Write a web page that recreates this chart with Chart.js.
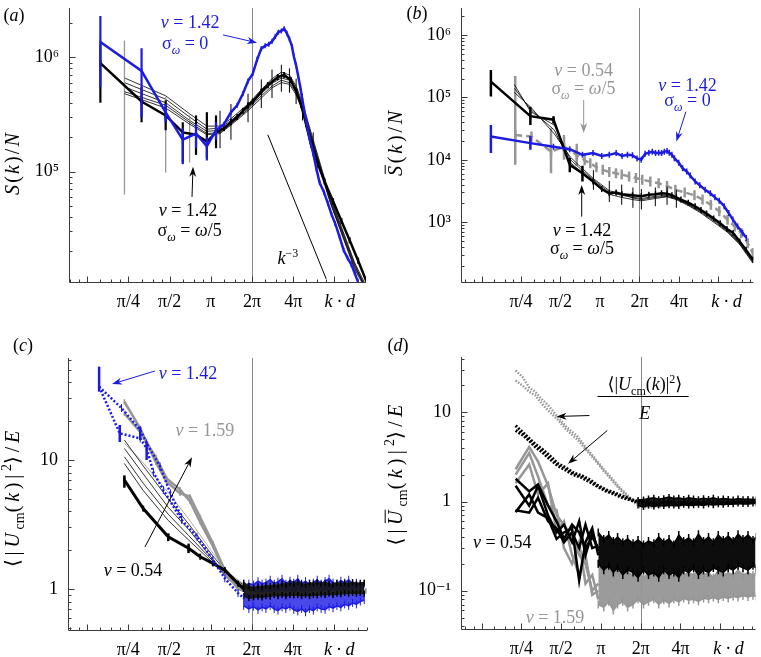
<!DOCTYPE html>
<html lang="en">
<head>
<meta charset="UTF-8">
<title>Structure factor and centre-of-mass velocity spectra</title>
<script src="https://cdn.jsdelivr.net/npm/chart.js"></script>
<style>
  * { margin: 0; padding: 0; }
  body { width: 761px; height: 657px; background: #fff; position: relative; overflow: hidden; }
  canvas { position: absolute; }
  #ca { left: 0; top: 0; }
  #cb { left: 380px; top: 0; }
  #cc { left: 0; top: 330px; }
  #cd { left: 380px; top: 330px; }
</style>
</head>
<body>
<canvas id="ca" width="380" height="330"></canvas>
<canvas id="cb" width="381" height="330"></canvas>
<canvas id="cc" width="380" height="327"></canvas>
<canvas id="cd" width="381" height="327"></canvas>
<script>
const PI = Math.PI;
const BLUE = 'rgb(28,28,225)';
const GRAY = 'rgb(150,150,150)';
const BLACK = '#000';
const SERIF = "'Liberation Serif', 'Times New Roman', 'DejaVu Serif', serif";

const xTickLabels = ['π/4', 'π/2', 'π', '2π', '4π', 'k · d'];

// ---- (a) S(k)/N ----
const aBlueK = [0.49, 0.98, 1.47, 1.96, 2.45, 2.94, 3.43, 3.92, 4.41, 4.90, 5.39, 5.88, 6.37, 6.86, 7.35, 7.84, 8.33, 8.82, 9.31, 9.80, 10.3, 10.8, 11.3, 11.8, 12.3, 12.7, 13.2, 13.7, 14.2, 14.7, 15.7, 16.7, 17.6, 18.6, 19.6, 21.1, 22.5, 24.0, 25.5, 27.4, 29.4, 31.4, 33.3, 35.3, 37.2];
const aBlueS = [1.36e6, 7.6e5, 3.3e5, 1.9e5, 2.15e5, 1.66e5, 2.3e5, 2.6e5, 3.3e5, 3.8e5, 4.8e5, 6.2e5, 7.2e5, 9.6e5, 1.19e6, 1.26e6, 1.30e6, 1.38e6, 1.52e6, 1.66e6, 1.70e6, 1.78e6, 1.62e6, 1.45e6, 1.25e6, 1.02e6, 8.5e5, 6.8e5, 5.4e5, 4.2e5, 2.7e5, 1.85e5, 1.45e5, 1.05e5, 8.0e4, 6.6e4, 5.3e4, 4.2e4, 3.5e4, 2.7e4, 2.05e4, 1.75e4, 1.55e4, 1.3e4, 1.1e4];
const aBlueLo = [5.5e5, 3.0e5, 2.7e5, 1.16e5, 1.6e5, 1.25e5, 1.9e5];
const aBlueHi = [2.3e6, 1.2e6, 3.9e5, 2.4e5, 2.6e5, 2.0e5, 2.7e5];
const aBlackK = [0.49, 0.98, 1.47, 1.96, 2.45, 2.94, 3.43, 3.92, 4.41, 4.90, 5.39, 5.88, 6.37, 7.35, 8.2, 9.7, 10.8, 12.1, 13.3, 14.4, 15.6, 17.0, 19.1, 21.3, 24.6, 28.3, 32.5, 37.5, 43];
const aBlackS = [8.9e5, 4.1e5, 3.1e5, 2.2e5, 2.1e5, 1.83e5, 2.2e5, 2.4e5, 2.7e5, 3.0e5, 3.4e5, 3.8e5, 4.1e5, 5.0e5, 5.7e5, 6.7e5, 7.0e5, 6.3e5, 5.0e5, 3.8e5, 2.6e5, 1.72e5, 1.15e5, 8.2e4, 5.5e4, 3.7e4, 2.5e4, 1.66e4, 1.1e4];
const aBlackLo = [4.0e5, 2.7e5, 2.3e5, 1.2e5, 1.4e5, 1.3e5, 1.6e5];
const aBlackHi = [1.3e6, 5.5e5, 4.2e5, 2.7e5, 3.1e5, 3.3e5, 3.1e5];
const aThinK = [0.735, 1.47, 2.2, 2.94, 3.67, 4.41, 5.88, 7.35, 8.8, 10.3, 11.8, 13.2, 14.7, 17.6, 20.6, 23.5, 29.4, 35.3, 42];
const aThin1 = [6.6e5, 4.6e5, 3.2e5, 2.5e5, 2.5e5, 2.9e5, 3.9e5, 5.2e5, 6.5e5, 7.4e5, 7.0e5, 5.6e5, 4.0e5, 1.9e5, 1.0e5, 6.0e4, 2.9e4, 1.6e4, 1.05e4];
const aThin2 = [6.0e5, 4.3e5, 3.0e5, 2.35e5, 2.4e5, 2.8e5, 3.7e5, 5.0e5, 6.2e5, 7.0e5, 6.6e5, 5.3e5, 3.8e5, 1.8e5, 9.6e4, 5.8e4, 2.8e4, 1.55e4, 1.0e4];
const aThin3 = [5.5e5, 4.0e5, 2.8e5, 2.25e5, 2.3e5, 2.7e5, 3.6e5, 4.8e5, 5.9e5, 6.6e5, 6.3e5, 5.1e5, 3.7e5, 1.75e5, 9.3e4, 5.6e4, 2.7e4, 1.5e4, 1.0e4];
const aThin4 = [5.0e5, 3.8e5, 2.7e5, 2.15e5, 2.2e5, 2.6e5, 3.5e5, 4.6e5, 5.6e5, 6.3e5, 6.0e5, 4.9e5, 3.5e5, 1.7e5, 9.0e4, 5.4e4, 2.6e4, 1.45e4, 9.8e3];
const aThin5 = [4.8e5, 3.6e5, 2.6e5, 2.1e5, 2.15e5, 2.55e5, 3.4e5, 4.4e5, 5.4e5, 6.0e5, 5.8e5, 4.7e5, 3.4e5, 1.65e5, 8.8e4, 5.3e4, 2.55e4, 1.4e4, 9.6e3];
const aThin3Lo = [null, null, null, 1.5e5, 1.6e5, 1.9e5, 2.7e5, 3.6e5, 4.4e5, 5.0e5, 4.9e5, 3.9e5, 2.8e5, 1.35e5];
const aThin3Hi = [null, null, null, 3.3e5, 3.4e5, 3.9e5, 4.8e5, 6.4e5, 7.8e5, 8.6e5, 8.0e5, 6.5e5, 4.8e5, 2.2e5];
const aThin4Lo = [6.3e4, 9.8e4, 1.2e5];
const aThin4Hi = [1.4e6, 4.5e5, 3.1e5];
const aSlopeK = [8.2, 21.9];
const aSlopeS = [2.1e5, 1.15e4];

// ---- (b) S-bar(k)/N ----
const bBlackK = [0.463, 0.926, 1.39, 1.85, 2.31, 2.78, 3.24, 3.70, 4.17, 4.63, 5.56, 6.48, 7.41, 8.33, 9.26, 10.2, 11.1, 12.0, 13.0, 14.8, 16.7, 18.5, 20.4, 23.1, 25.9, 29.2, 32.5, 36.5, 40.8, 46];
const bBlackS = [1.79e5, 5.0e4, 4.4e4, 8.3e3, 6.1e3, 4.5e3, 3.4e3, 2.9e3, 3.0e3, 2.8e3, 2.7e3, 2.6e3, 2.75e3, 2.8e3, 2.9e3, 2.85e3, 2.7e3, 2.5e3, 2.3e3, 2.05e3, 1.8e3, 1.57e3, 1.38e3, 1.15e3, 9.6e2, 7.8e2, 6.7e2, 4.9e2, 3.6e2, 2.5e2];
const bBlackLo = [1.03e5, 3.6e4, 3.8e4, 6.3e3, 4.5e3];
const bBlackHi = [2.76e5, 7.1e4, 5.0e4, 1.07e4, 8.0e3];
const bBlueK = [0.463, 0.926, 1.39, 1.85, 2.31, 2.78, 3.24, 3.70, 4.17, 4.63, 5.09, 5.56, 6.02, 6.48, 6.94, 7.41, 7.87, 8.33, 8.80, 9.26, 9.72, 10.2, 10.6, 11.1, 11.6, 12.5, 13.4, 14.4, 15.3, 16.7, 18.1, 19.9, 21.8, 23.6, 25.5, 27.8, 30.1, 32.4, 35.2, 38.4, 41.0];
const bBlueS = [2.36e4, 1.85e4, 1.62e4, 1.48e4, 1.2e4, 1.28e4, 1.15e4, 1.2e4, 1.28e4, 1.15e4, 1.2e4, 1.18e4, 1.05e4, 1.0e4, 1.25e4, 1.3e4, 1.35e4, 1.28e4, 1.3e4, 1.28e4, 1.35e4, 1.38e4, 1.3e4, 1.2e4, 1.06e4, 9.0e3, 7.3e3, 6.5e3, 5.6e3, 4.5e3, 3.9e3, 3.3e3, 2.9e3, 2.5e3, 2.2e3, 1.8e3, 1.4e3, 1.1e3, 8.5e2, 6.8e2, 5.6e2];
const bBlueLo = [1.28e4, 1.45e4];
const bBlueHi = [3.6e4, 2.4e4];
const bGrayK = [0.71, 0.944, 1.33, 1.67, 2.09, 2.4, 2.65, 2.95, 3.3, 3.7, 4.16, 4.6, 5.24, 5.9, 6.6, 7.6, 8.8, 10.2, 11.8, 13.9, 16.5, 19, 22, 25.5, 29.5, 33.5, 37.5, 42, 46];
const bGrayS = [2.5e4, 2.36e4, 1.35e4, 1.62e4, 1.2e4, 9.8e3, 8.8e3, 7.6e3, 6.9e3, 6.4e3, 6.1e3, 5.8e3, 5.4e3, 5.1e3, 4.8e3, 4.5e3, 4.2e3, 3.8e3, 3.3e3, 3.0e3, 2.7e3, 2.3e3, 1.9e3, 1.5e3, 1.09e3, 8.5e2, 6.7e2, 4.6e2, 3.2e2];
const bGrayLo = [8.3e3, null, 6.1e3, 1.0e4, 8.0e3];
const bGrayHi = [2.2e5, null, 3.2e4, 2.5e4, 1.8e4];
const bThinK = [0.70, 0.93, 1.41, 1.87, 2.35, 2.8, 3.7, 4.6, 5.6, 6.5, 8.3, 10.2, 12.0, 14.8, 18.5, 23.1, 29.2, 36.5, 46];
const bThin1 = [1.6e5, 5.9e4, 3.6e4, 1.0e4, 6.5e3, 4.8e3, 3.0e3, 2.7e3, 2.5e3, 2.4e3, 2.6e3, 2.7e3, 2.4e3, 1.95e3, 1.5e3, 1.1e3, 7.5e2, 4.7e2, 2.4e2];
const bThin2 = [1.2e5, 7.0e4, 2.6e4, 1.1e4, 7.0e3, 5.0e3, 3.2e3, 2.8e3, 2.45e3, 2.3e3, 2.5e3, 2.6e3, 2.35e3, 1.9e3, 1.45e3, 1.05e3, 7.2e2, 4.5e2, 2.3e2];
const bThin3 = [1.4e5, 6.4e4, 3.0e4, 9.0e3, 6.0e3, 4.4e3, 2.8e3, 2.5e3, 2.3e3, 2.2e3, 2.4e3, 2.55e3, 2.3e3, 1.85e3, 1.4e3, 1.0e3, 7.0e2, 4.4e2, 2.2e2];
const bThin2Lo = [null, null, null, null, null, 3.3e3, 2.1e3, 1.9e3, 1.7e3, 1.6e3, 1.8e3, 1.9e3, 1.7e3];
const bThin2Hi = [null, null, null, null, null, 6.8e3, 4.6e3, 4.0e3, 3.6e3, 3.4e3, 3.6e3, 3.7e3, 3.3e3];

// ---- (c) <|U_cm(k)|^2>/E ----
const cBlueAK = [0.48, 0.68, 0.96, 1.07, 1.2, 1.42, 1.93, 2.5, 3.27, 4.0, 5.0, 5.5];
const cBlueA = [37, 16.1, 14.7, 12.3, 8.0, 5.85, 3.43, 2.54, 1.68, 1.21, 0.93, 0.85];
const cBlueALo = [33.9, 13.8, null, 10.0];
const cBlueAHi = [53, 18.7, null, 13.8];
const cBlueBK = [0.48, 0.70, 0.96, 1.07, 1.34, 1.6, 1.93];
const cBlueB = [37, 25.3, 17.1, 13.5, 8.9, 5.5, 3.6];
const cBlueBLo = [null, null, 14.3];
const cBlueBHi = [null, null, 18.1];
const cBlackK = [0.735, 1.01, 1.54, 2.17, 2.64, 3.27, 4.0, 5.0, 5.5];
const cBlack = [7.0, 4.2, 2.54, 2.07, 1.78, 1.58, 1.40, 1.1, 1.0];
const cBlackLo = [6.1, null, 2.35, 1.9];
const cBlackHi = [7.6, null, 2.7, 2.25];
const cGrayK = [0.735, 0.96, 1.25, 1.5, 1.88, 2.22, 2.64, 3.27, 4.0, 5.0, 6.4, 8.0, 10.5, 14, 19, 25, 33, 43];
const cGrayA = [28.3, 17.6, 9.6, 6.8, 5.5, 5.2, 3.6, 2.26, 1.4, 1.04, 0.93, 0.92, 0.94, 0.93, 0.95, 0.94, 0.96, 0.97];
const cGrayB = [23, 16.5, 10.5, 7.2, 5.9, 4.8, 3.3, 2.15, 1.35, 1.0, 0.92, 0.91, 0.93, 0.92, 0.94, 0.93, 0.95, 0.96];
const cThinK = [0.735, 1.01, 1.54, 2.17, 3.27, 4.4, 6.3];
const cThin1 = [14.3, 9.0, 5.0, 3.2, 1.8, 1.25, 0.98];
const cThin2 = [12.3, 7.8, 4.3, 2.9, 1.7, 1.2, 0.97];
const cThin3 = [10.6, 6.6, 3.8, 2.6, 1.65, 1.18, 0.96];
const cThin4 = [9.4, 5.8, 3.4, 2.4, 1.6, 1.15, 0.96];
const cThinG = [13.5, 9.5, 5.6, 3.5, 1.9, 1.3, 0.98];
const cTailK = [5.5, 6.0, 6.5, 7.0, 7.5, 8.0, 8.6, 9.2, 9.8, 10.5, 11.2, 12.0, 12.8, 13.7, 14.6, 15.6, 16.7, 17.8, 19.0, 20.3, 21.7, 23.2, 24.8, 26.5, 28.3, 30.2, 32.3, 34.5, 36.8, 39.3, 42.0];
const cBlueHi = [1.05, 1.1, 1.08, 1.15, 1.1, 1.12, 1.18, 1.1, 1.14, 1.2, 1.1, 1.16, 1.12, 1.2, 1.1, 1.15, 1.08, 1.12, 1.18, 1.1, 1.15, 1.2, 1.12, 1.1, 1.16, 1.12, 1.18, 1.1, 1.12, 1.08, 1.1];
const cBlueLo = [0.74, 0.7, 0.73, 0.69, 0.72, 0.7, 0.74, 0.7, 0.68, 0.72, 0.7, 0.73, 0.69, 0.67, 0.7, 0.66, 0.7, 0.68, 0.72, 0.7, 0.69, 0.73, 0.71, 0.74, 0.72, 0.76, 0.74, 0.78, 0.76, 0.8, 0.82];
const cBlackBandHi = [1.12, 1.05, 1.02, 1.05, 1.03, 1.07, 1.05, 1.08, 1.06, 1.1, 1.08, 1.12, 1.1, 1.13, 1.1, 1.08, 1.12, 1.1, 1.13, 1.1, 1.12, 1.1, 1.08, 1.12, 1.1, 1.12, 1.1, 1.13, 1.1, 1.12, 1.12];
const cBlackBandLo = [0.88, 0.85, 0.86, 0.87, 0.86, 0.88, 0.87, 0.9, 0.88, 0.9, 0.88, 0.9, 0.89, 0.9, 0.88, 0.9, 0.88, 0.9, 0.89, 0.91, 0.9, 0.92, 0.9, 0.92, 0.91, 0.93, 0.92, 0.93, 0.92, 0.93, 0.92];

// ---- (d) <|U-bar_cm(k)|^2>/E ----
const dGrayDotK = [0.71, 0.8, 0.9, 1.0, 1.12, 1.25, 1.49, 1.7, 2.1, 2.5, 2.96, 3.3, 3.71, 4.41, 5.23, 6.2, 7.5, 9, 11, 13.5, 16.5, 20, 24, 29, 35, 42, 47];
const dGrayDotA = [29.4, 25, 19, 17, 14, 12, 8.8, 7, 5.3, 3.8, 2.8, 2.3, 1.9, 1.4, 1.1, 0.9, 0.88, 0.9, 0.92, 0.93, 0.95, 0.95, 0.96, 0.97, 0.97, 0.98, 0.98];
const dGrayDotB = [22.7, 20, 17, 15.5, 12.5, 10.5, 8.2, 6.5, 4.9, 3.6, 2.7, 2.2, 1.8, 1.35, 1.05, 0.87, 0.86, 0.88, 0.9, 0.92, 0.93, 0.94, 0.95, 0.96, 0.96, 0.97, 0.97];
const dBlackDotK = [0.71, 0.8, 0.9, 1.0, 1.12, 1.25, 1.49, 1.7, 1.94, 2.25, 2.6, 3.0, 3.46, 4.0, 4.6, 5.7, 7, 8.5, 10, 12, 14.5, 17.5, 21, 25, 30, 36, 42, 47];
const dBlackDotA = [7.1, 6.0, 5.1, 4.4, 3.9, 3.4, 2.65, 2.4, 2.1, 1.95, 1.75, 1.5, 1.35, 1.25, 1.15, 1.02, 0.98, 0.97, 1.0, 0.97, 0.99, 0.96, 1.0, 0.98, 0.97, 1.0, 0.99, 1.0];
const dBlackDotB = [6.25, 5.6, 4.8, 4.1, 3.6, 3.1, 2.5, 2.25, 2.0, 1.85, 1.65, 1.45, 1.3, 1.2, 1.1, 1.0, 0.95, 0.95, 0.97, 0.95, 0.97, 0.95, 0.97, 0.96, 0.95, 0.97, 0.97, 0.98];
const dTailK = [6.0, 6.6, 7.2, 7.9, 8.6, 9.4, 10.3, 11.2, 12.2, 13.3, 14.5, 15.8, 17.2, 18.8, 20.5, 22.3, 24.3, 26.5, 28.9, 31.5, 34.3, 37.4, 40.8, 44.5, 47];
const dUnitHi = [1.04, 1.05, 1.08, 1.1, 1.06, 1.09, 1.12, 1.08, 1.1, 1.07, 1.1, 1.08, 1.06, 1.09, 1.07, 1.1, 1.06, 1.08, 1.07, 1.05, 1.08, 1.06, 1.07, 1.05, 1.06];
const dUnitLo = [0.9, 0.87, 0.9, 0.88, 0.9, 0.89, 0.91, 0.9, 0.89, 0.92, 0.9, 0.91, 0.92, 0.9, 0.93, 0.91, 0.93, 0.92, 0.94, 0.93, 0.95, 0.94, 0.94, 0.95, 0.95];
const dNoiseK = [3.0, 3.3, 3.6, 3.9, 4.2, 4.6, 5.0, 5.5, 6.0, 6.6, 7.2, 7.9, 8.6, 9.4, 10.3, 11.2, 12.2, 13.3, 14.5, 15.8, 17.2, 18.8, 20.5, 22.3, 24.3, 26.5, 28.9, 31.5, 34.3, 37.4, 40.8, 44.5, 47];
const dBlackHi = [0.45, 0.38, 0.42, 0.36, 0.4, 0.35, 0.38, 0.34, 0.37, 0.33, 0.36, 0.34, 0.4, 0.35, 0.38, 0.33, 0.42, 0.36, 0.39, 0.35, 0.43, 0.36, 0.4, 0.35, 0.42, 0.37, 0.41, 0.36, 0.43, 0.38, 0.42, 0.37, 0.4];
const dBlackLo = [0.2, 0.17, 0.19, 0.16, 0.18, 0.15, 0.17, 0.16, 0.14, 0.17, 0.15, 0.16, 0.14, 0.17, 0.15, 0.16, 0.14, 0.17, 0.16, 0.18, 0.15, 0.17, 0.16, 0.18, 0.17, 0.16, 0.18, 0.17, 0.19, 0.18, 0.17, 0.19, 0.18];
const dGrayHi = [0.2, 0.16, 0.18, 0.15, 0.17, 0.14, 0.16, 0.15, 0.17, 0.14, 0.16, 0.15, 0.17, 0.15, 0.16, 0.14, 0.17, 0.15, 0.16, 0.15, 0.17, 0.15, 0.16, 0.14, 0.17, 0.15, 0.16, 0.15, 0.17, 0.15, 0.16, 0.15, 0.16];
const dGrayLo = [0.07, 0.065, 0.075, 0.06, 0.07, 0.075, 0.065, 0.07, 0.08, 0.07, 0.075, 0.08, 0.07, 0.078, 0.072, 0.08, 0.075, 0.082, 0.078, 0.08, 0.076, 0.082, 0.08, 0.084, 0.08, 0.085, 0.082, 0.086, 0.084, 0.088, 0.085, 0.088, 0.086];
const dJagK = [0.71, 0.9, 1.05, 1.25, 1.45, 1.65, 1.9, 2.15, 2.4, 2.7, 3.0];
const dJagA = [1.8, 1.3, 1.55, 0.9, 0.6, 0.38, 0.55, 0.45, 0.3, 0.4, 0.3];
const dJagB = [1.5, 0.9, 1.5, 0.7, 0.45, 0.55, 0.35, 0.6, 0.25, 0.45, 0.28];
const dJagC = [0.76, 1.2, 0.75, 0.65, 0.38, 0.45, 0.5, 0.13, 0.35, 0.5, 0.25];
const dJagD = [0.8, 0.75, 1.1, 0.6, 0.5, 0.35, 0.45, 0.3, 0.55, 0.3, 0.32];
const dGjA = [2.3, 4.1, 2.8, 1.5, 0.7, 0.55, 0.4, 0.25, 0.2, 0.1, 0.12];
const dGjB = [2.0, 3.5, 1.9, 0.9, 0.8, 0.3, 0.2, 0.35, 0.12, 0.15, 0.08];
const dGjC = [1.6, 2.6, 1.2, 1.6, 0.45, 0.6, 0.25, 0.15, 0.25, 0.09, 0.1];

// ---------- helpers ----------
function pts(k, v) { return k.map((x, i) => ({ x: x, y: v[i] })); }
function line(k, v, o) {
  return Object.assign({ data: pts(k, v), borderColor: BLACK, borderWidth: 1, pointRadius: 0, fill: false, tension: 0 }, o || {});
}
// short vertical strokes on every point, the look of dense error bars
function marks(r, w, col) {
  return { pointStyle: 'line', pointRotation: 90, pointRadius: r, pointBorderWidth: w, pointBorderColor: col, pointBackgroundColor: col };
}
function band(k, hi, lo, col, fillCol, mk) {
  return [
    line(k, hi, Object.assign({ borderColor: col, borderWidth: 1.5, fill: '+1', backgroundColor: fillCol }, mk || {})),
    line(k, lo, Object.assign({ borderColor: col, borderWidth: 1.5 }, mk || {}))
  ];
}

function fontFor(f, size) {
  const small = f.includes('b') || f.includes('p');
  return (f.includes('i') ? 'italic ' : '') + Math.round(small ? size * 0.68 : size) + 'px ' + SERIF;
}
function isSmall(f) { return f.includes('b') || f.includes('p'); }
// parts: [[text, flags]] flags: i italic, b subscript, p superscript, o overbar
// gap: extra space after every full-size glyph
function drawRich(c, parts, x, y, size, color, gap) {
  gap = gap || 0;
  c.save();
  const ws = parts.map(p => {
    c.font = fontFor(p[1], size);
    return c.measureText(p[0]).width + (isSmall(p[1]) ? 0 : gap * p[0].length);
  });
  const w = ws.reduce((s, v) => s + v, 0);
  let cx = x - w / 2;
  const base = y + size * 0.33;
  c.fillStyle = color; c.strokeStyle = color;
  c.textAlign = 'left'; c.textBaseline = 'alphabetic';
  parts.forEach((p, i) => {
    const f = p[1];
    c.font = fontFor(f, size);
    const dy = f.includes('b') ? size * 0.28 : (f.includes('p') ? -size * 0.38 : 0);
    if (isSmall(f) || gap === 0) {
      c.fillText(p[0], cx, base + dy);
    } else {
      let gx = cx;
      for (const ch of p[0]) { c.fillText(ch, gx, base + dy); gx += c.measureText(ch).width + gap; }
    }
    if (f.includes('o')) {
      c.lineWidth = 1;
      c.beginPath(); c.moveTo(cx + 2, base - size * 0.82); c.lineTo(cx + ws[i] - gap + 1, base - size * 0.82); c.stroke();
    }
    cx += ws[i];
  });
  c.restore();
}
function richWidth(c, parts, size) {
  return parts.reduce((s, p) => { c.font = fontFor(p[1], size); return s + c.measureText(p[0]).width; }, 0);
}
function drawArrow(c, x1, y1, x2, y2, col) {
  const a = Math.atan2(y2 - y1, x2 - x1);
  c.save();
  c.strokeStyle = col; c.fillStyle = col; c.lineWidth = 1;
  c.beginPath(); c.moveTo(x1, y1); c.lineTo(x2 - 6 * Math.cos(a), y2 - 6 * Math.sin(a)); c.stroke();
  c.beginPath();
  c.moveTo(x2, y2);
  c.lineTo(x2 - 10 * Math.cos(a) + 3.5 * Math.sin(a), y2 - 10 * Math.sin(a) - 3.5 * Math.cos(a));
  c.lineTo(x2 - 7 * Math.cos(a), y2 - 7 * Math.sin(a));
  c.lineTo(x2 - 10 * Math.cos(a) - 3.5 * Math.sin(a), y2 - 10 * Math.sin(a) + 3.5 * Math.cos(a));
  c.closePath(); c.fill();
  c.restore();
}

const errorBars = {
  id: 'errorBars',
  beforeDatasetDraw(chart, args) {
    const ds = chart.data.datasets[args.index];
    if (!ds.errLo) return;
    const xs = chart.scales.x, ys = chart.scales.y, c = chart.ctx, a = chart.chartArea;
    c.save();
    c.beginPath(); c.rect(a.left, a.top, a.right - a.left, a.bottom - a.top); c.clip();
    c.strokeStyle = ds.errColor || ds.borderColor;
    c.lineWidth = ds.errWidth || 1;
    ds.data.forEach((p, i) => {
      const lo = ds.errLo[i], hi = ds.errHi[i];
      if (lo == null || hi == null) return;
      const px = xs.getPixelForValue(p.x);
      c.beginPath(); c.moveTo(px, ys.getPixelForValue(lo)); c.lineTo(px, ys.getPixelForValue(hi)); c.stroke();
    });
    c.restore();
  }
};

const frame = {
  id: 'frame',
  beforeDatasetsDraw(chart) {
    const c = chart.ctx, a = chart.chartArea;
    const px = Math.round(chart.scales.x.getPixelForValue(2 * PI)) + 0.5;
    c.save();
    c.strokeStyle = 'rgb(135,135,135)'; c.lineWidth = 1;
    c.beginPath(); c.moveTo(px, a.top); c.lineTo(px, a.bottom); c.stroke();
    c.restore();
  },
  afterDatasetsDraw(chart) {
    const c = chart.ctx, a = chart.chartArea, xs = chart.scales.x, ys = chart.scales.y;
    const L = Math.round(a.left) + 0.5, B = Math.round(a.bottom) + 0.5;
    c.save();
    c.strokeStyle = '#3a3a3a'; c.lineWidth = 1;
    c.beginPath(); c.moveTo(L, a.top); c.lineTo(L, B); c.lineTo(a.right, B); c.stroke();
    [PI / 16, PI / 8, PI / 4, PI / 2, PI, 2 * PI, 4 * PI, 8 * PI, 16 * PI].forEach(b => {
      [1, 1.25, 1.5, 1.75].forEach((m, j) => {
        const v = b * m;
        if (v < xs.min || v > xs.max) return;
        const p = Math.round(xs.getPixelForValue(v)) + 0.5;
        c.beginPath(); c.moveTo(p, B); c.lineTo(p, B - (j === 0 ? 6 : 3)); c.stroke();
      });
    });
    for (let e = -3; e <= 7; e++) {
      for (let m = 1; m < 10; m++) {
        const v = m * Math.pow(10, e);
        if (v < ys.min || v > ys.max) continue;
        const p = Math.round(ys.getPixelForValue(v)) + 0.5;
        c.beginPath(); c.moveTo(L, p); c.lineTo(L + (m === 1 ? 6 : 3), p); c.stroke();
      }
    }
    c.restore();
  }
};

function annotations(cfg) {
  return {
    id: 'notes',
    afterDraw(chart) {
      const c = chart.ctx, xs = chart.scales.x, ys = chart.scales.y, a = chart.chartArea;
      cfg.notes.forEach(n => {
        const col = n.c || BLACK;
        if (n.arrow) {
          drawArrow(c, xs.getPixelForValue(n.arrow[0]), ys.getPixelForValue(n.arrow[1]),
            xs.getPixelForValue(n.arrow[2]), ys.getPixelForValue(n.arrow[3]), col);
        } else if (n.rule) {
          const y = Math.round(ys.getPixelForValue(n.rule[2])) + 0.5;
          c.save(); c.strokeStyle = col; c.lineWidth = 1;
          c.beginPath(); c.moveTo(xs.getPixelForValue(n.rule[0]), y); c.lineTo(xs.getPixelForValue(n.rule[1]), y); c.stroke();
          c.restore();
        } else {
          drawRich(c, n.t, xs.getPixelForValue(n.x), ys.getPixelForValue(n.y), n.s || 18, col, 0);
        }
      });
      // axis title, spread to the length it has in the figure
      let size = 20;
      let w0 = richWidth(c, cfg.title, size);
      if (w0 > cfg.titleLen) { size = size * cfg.titleLen / w0; w0 = cfg.titleLen; }
      const full = cfg.title.reduce((s, p) => s + (isSmall(p[1]) ? 0 : p[0].length), 0);
      const gap = Math.max(0, (cfg.titleLen - w0) / full);
      c.save();
      c.translate(a.left + cfg.titleDx, cfg.titleY);
      c.rotate(-PI / 2);
      drawRich(c, cfg.title, 0, 0, size, BLACK, gap);
      c.restore();
      drawRich(c, cfg.letter, cfg.letterX, cfg.letterY, 18, BLACK, 0);
    }
  };
}

function makeChart(id, cfg) {
  const n = cfg.sets.length;
  cfg.sets.forEach((d, i) => { d.order = n - i; });
  const xVals = [PI / 4, PI / 2, PI, 2 * PI, 4 * PI, cfg.kd];
  return new Chart(document.getElementById(id), {
    type: 'line',
    data: { datasets: cfg.sets },
    options: {
      responsive: false,
      animation: false,
      events: [],
      layout: { padding: cfg.pad },
      plugins: { legend: { display: false }, tooltip: { enabled: false } },
      scales: {
        x: {
          type: 'logarithmic', min: cfg.xMin, max: cfg.xMax,
          afterBuildTicks: s => { s.ticks = xVals.map(v => ({ value: v })); },
          afterFit: s => { s.height = cfg.xH; s.paddingLeft = 0; s.paddingRight = 0; },
          grid: { display: false, drawTicks: false },
          border: { display: false },
          ticks: {
            autoSkip: false, maxRotation: 0, minRotation: 0, padding: cfg.xPad, color: '#000',
            font: ctx => ({ family: SERIF, size: 18, style: ctx.index === 5 ? 'italic' : 'normal' }),
            callback: (v, i) => xTickLabels[i]
          }
        },
        y: {
          type: 'logarithmic', min: cfg.yMin, max: cfg.yMax,
          afterBuildTicks: s => { s.ticks = cfg.yVals.map(v => ({ value: v })); },
          afterFit: s => { s.width = cfg.yW; s.paddingTop = 0; s.paddingBottom = 0; },
          grid: { display: false, drawTicks: false },
          border: { display: false },
          ticks: {
            padding: 10, color: '#000', font: { family: SERIF, size: 18 },
            callback: (v, i) => cfg.yLabels[i]
          }
        }
      }
    },
    plugins: [frame, errorBars, annotations(cfg)]
  });
}

const NU = (v) => [['ν', 'i'], [' = ' + v, '']];
const SIG0 = [['σ', ''], ['ω', 'ib'], [' = 0', '']];
const SIG5 = [['σ', ''], ['ω', 'ib'], [' = ', ''], ['ω', 'i'], ['/5', '']];

// ---------- (a) ----------
makeChart('ca', {
  xMin: 0.289, xMax: 42.8, yMin: 1.08e4, yMax: 2.7e6, kd: 27.5,
  yVals: [1e5, 1e6], yLabels: ['10⁵', '10⁶'],
  pad: { left: 0, right: 14, top: 8, bottom: 0 }, yW: 69, xH: 48, xPad: 9,
  title: [['S', 'i'], ['(', ''], ['k', 'i'], [')/', ''], ['N', 'i']], titleDx: -57, titleY: 163, titleLen: 64,
  letter: [['(', ''], ['a', 'i'], [')', '']], letterX: 14, letterY: 15,
  notes: [
    { t: NU('1.42'), x: 2.22, y: 2.04e6, c: BLUE },
    { t: SIG0, x: 2.04, y: 1.34e6, c: BLUE },
    { arrow: [3.86, 1.57e6, 6.84, 1.34e6], c: BLUE },
    { t: NU('1.42'), x: 2.14, y: 4.6e4 },
    { t: SIG5, x: 2.2, y: 3.09e4 },
    { arrow: [2.29, 6.0e4, 2.33, 1.1e5] },
    { t: [['k', 'i'], ['−3', 'p']], x: 11.5, y: 1.76e4 }
  ],
  sets: [
    line(aThinK, aThin1, { borderWidth: 0.8 }),
    line(aThinK, aThin2, { borderWidth: 0.8 }),
    line(aThinK, aThin3, { borderWidth: 0.8, errLo: aThin3Lo, errHi: aThin3Hi, errColor: BLACK, errWidth: 1 }),
    line(aThinK, aThin4, { borderWidth: 0.8, errLo: aThin4Lo, errHi: aThin4Hi, errColor: GRAY, errWidth: 1.3 }),
    line(aThinK, aThin5, { borderWidth: 0.8 }),
    line(aBlackK, aBlackS, Object.assign({ borderWidth: 2.5, errLo: aBlackLo, errHi: aBlackHi, errColor: BLACK, errWidth: 2.2 }, marks(3, 2, BLACK))),
    line(aBlueK, aBlueS, Object.assign({ borderColor: BLUE, borderWidth: 2.5, errLo: aBlueLo, errHi: aBlueHi, errColor: BLUE, errWidth: 2.2 }, marks(2.5, 1.5, BLUE))),
    line(aSlopeK, aSlopeS, { borderWidth: 1 })
  ]
});

// ---------- (b) ----------
makeChart('cb', {
  xMin: 0.274, xMax: 46.5, yMin: 110, yMax: 2.71e6, kd: 29,
  yVals: [1e3, 1e4, 1e5, 1e6], yLabels: ['10³', '10⁴', '10⁵', '10⁶'],
  pad: { left: 0, right: 0, top: 8, bottom: 0 }, yW: 81, xH: 48, xPad: 9,
  title: [['S', 'io'], ['(', ''], ['k', 'i'], [')/', ''], ['N', 'i']], titleDx: -66, titleY: 142, titleLen: 68,
  letter: [['(', ''], ['b', 'i'], [')', '']], letterX: 37, letterY: 13,
  notes: [
    { t: NU('0.54'), x: 2.36, y: 2.76e5, c: GRAY },
    { t: SIG5, x: 2.35, y: 1.42e5, c: GRAY },
    { arrow: [2.36, 9.1e4, 2.36, 2.7e4], c: GRAY },
    { t: NU('1.42'), x: 14.6, y: 1.59e5, c: BLUE },
    { t: SIG0, x: 14.6, y: 9.1e4, c: BLUE },
    { arrow: [14.2, 5.9e4, 12.0, 1.96e4], c: BLUE },
    { t: NU('1.42'), x: 2.29, y: 7.5e2 },
    { t: SIG5, x: 2.29, y: 3.9e2 },
    { arrow: [2.28, 1.23e3, 2.28, 3.96e3] }
  ],
  sets: [
    line(bGrayK, bGrayS, Object.assign({ borderColor: GRAY, borderWidth: 2.5, borderDash: [7, 4], errLo: bGrayLo, errHi: bGrayHi, errColor: GRAY, errWidth: 2.5 }, marks(5, 2.5, GRAY))),
    line(bThinK, bThin1, { borderWidth: 0.8 }),
    line(bThinK, bThin2, { borderWidth: 0.8, errLo: bThin2Lo, errHi: bThin2Hi, errColor: BLACK, errWidth: 1 }),
    line(bThinK, bThin3, { borderWidth: 0.8 }),
    line(bBlackK, bBlackS, Object.assign({ borderWidth: 2.5, errLo: bBlackLo, errHi: bBlackHi, errColor: BLACK, errWidth: 2.5 }, marks(3, 1.5, BLACK))),
    line(bBlueK, bBlueS, Object.assign({ borderColor: BLUE, borderWidth: 2.5, errLo: bBlueLo, errHi: bBlueHi, errColor: BLUE, errWidth: 2.5 }, marks(3, 1.5, BLUE)))
  ]
});

// ---------- (c) ----------
makeChart('cc', {
  xMin: 0.284, xMax: 44.0, yMin: 0.481, yMax: 61.8, kd: 27.5,
  yVals: [1, 10], yLabels: ['1', '10'],
  pad: { left: 0, right: 13, top: 28, bottom: 0 }, yW: 68, xH: 27, xPad: 9,
  title: [['⟨|', ''], ['U', 'i'], ['cm', 'b'], ['(', ''], ['k', 'i'], [')|', ''], ['2', 'p'], ['⟩/', ''], ['E', 'i']], titleDx: -56, titleY: 167, titleLen: 140,
  letter: [['(', ''], ['c', 'i'], [')', '']], letterX: 23, letterY: 15,
  notes: [
    { t: NU('1.42'), x: 2.15, y: 47.3, c: BLUE },
    { arrow: [1.23, 49, 0.597, 38.8], c: BLUE },
    { t: NU('1.59'), x: 2.86, y: 17.1, c: GRAY },
    { t: NU('0.54'), x: 0.85, y: 1.40 },
    { arrow: [1.04, 2.12, 2.30, 10.5] }
  ],
  sets: [
    ...band(cTailK, cBlueHi, cBlueLo, BLUE, 'rgba(40,40,230,0.85)', marks(4, 1, BLUE)),
    line(cThinK, cThinG, { borderColor: GRAY, borderWidth: 0.8 }),
    line(cThinK, cThin1, { borderWidth: 0.8 }),
    line(cThinK, cThin2, { borderWidth: 0.8 }),
    line(cThinK, cThin3, { borderWidth: 0.8 }),
    line(cThinK, cThin4, { borderWidth: 0.8 }),
    line(cGrayK, cGrayA, Object.assign({ borderColor: GRAY, borderWidth: 2.5 }, marks(2.5, 1.5, GRAY))),
    line(cGrayK, cGrayB, Object.assign({ borderColor: GRAY, borderWidth: 2.5 }, marks(2.5, 1.5, GRAY))),
    line(cBlackK, cBlack, Object.assign({ borderWidth: 3, errLo: cBlackLo, errHi: cBlackHi, errColor: BLACK, errWidth: 2.5 }, marks(3, 2, BLACK))),
    ...band(cTailK, cBlackBandHi, cBlackBandLo, 'rgb(25,25,25)', 'rgba(20,20,20,0.9)', marks(3, 1.5, BLACK)),
    line(cBlueAK, cBlueA, Object.assign({ borderColor: BLUE, borderWidth: 2.5, borderDash: [2, 2], errLo: cBlueALo, errHi: cBlueAHi, errColor: BLUE, errWidth: 2.5 }, marks(4, 1, BLUE))),
    line(cBlueBK, cBlueB, Object.assign({ borderColor: BLUE, borderWidth: 2.5, borderDash: [2, 2], errLo: cBlueBLo, errHi: cBlueBHi, errColor: BLUE, errWidth: 2.5 }, marks(4, 1, BLUE)))
  ]
});

// ---------- (d) ----------
makeChart('cd', {
  xMin: 0.274, xMax: 46.5, yMin: 0.0372, yMax: 41.7, kd: 29,
  yVals: [0.1, 1, 10], yLabels: ['10⁻¹', '1', '10'],
  pad: { left: 0, right: 0, top: 27, bottom: 0 }, yW: 81, xH: 28, xPad: 9,
  title: [['⟨|', ''], ['U', 'io'], ['cm', 'b'], ['(', ''], ['k', 'i'], [')|', ''], ['2', 'p'], ['⟩/', ''], ['E', 'i']], titleDx: -66, titleY: 143, titleLen: 145,
  letter: [['(', ''], ['d', 'i'], [')', '']], letterX: 18, letterY: 15,
  notes: [
    { t: [['⟨|', ''], ['U', 'i'], ['cm', 'b'], ['(', ''], ['k', 'i'], [')|', ''], ['2', 'p'], ['⟩', '']], x: 6.76, y: 20.9 },
    { rule: [2.96, 14.5, 15.4] },
    { t: [['E', 'i']], x: 6.74, y: 9.7 },
    { arrow: [2.57, 9.2, 1.45, 8.98] },
    { arrow: [3.51, 6.25, 1.77, 2.65] },
    { t: NU('0.54'), x: 0.562, y: 0.35 },
    { t: NU('1.59'), x: 1.41, y: 0.05, c: GRAY }
  ],
  sets: [
    ...band(dNoiseK, dGrayHi, dGrayLo, GRAY, 'rgba(150,150,150,0.95)', marks(4, 1.5, GRAY)),
    line(dJagK, dGjA, { borderColor: GRAY, borderWidth: 2.5 }),
    line(dJagK, dGjB, { borderColor: GRAY, borderWidth: 2.5 }),
    line(dJagK, dGjC, { borderColor: GRAY, borderWidth: 2.5 }),
    ...band(dNoiseK, dBlackHi, dBlackLo, BLACK, 'rgba(0,0,0,0.95)', marks(4, 1.5, BLACK)),
    line(dJagK, dJagA, { borderWidth: 2.5 }),
    line(dJagK, dJagB, { borderWidth: 2.5 }),
    line(dJagK, dJagC, { borderWidth: 2.5 }),
    line(dJagK, dJagD, { borderWidth: 2.5 }),
    line(dGrayDotK, dGrayDotA, { borderColor: GRAY, borderWidth: 2.5, borderDash: [1.5, 1.5] }),
    line(dGrayDotK, dGrayDotB, { borderColor: GRAY, borderWidth: 2.5, borderDash: [1.5, 1.5] }),
    ...band(dTailK, dUnitHi, dUnitLo, BLACK, 'rgba(0,0,0,0.9)', marks(3, 1.5, BLACK)),
    line(dBlackDotK, dBlackDotA, { borderWidth: 3, borderDash: [2, 1.5] }),
    line(dBlackDotK, dBlackDotB, { borderWidth: 3, borderDash: [2, 1.5] })
  ]
});
</script>
</body>
</html>
